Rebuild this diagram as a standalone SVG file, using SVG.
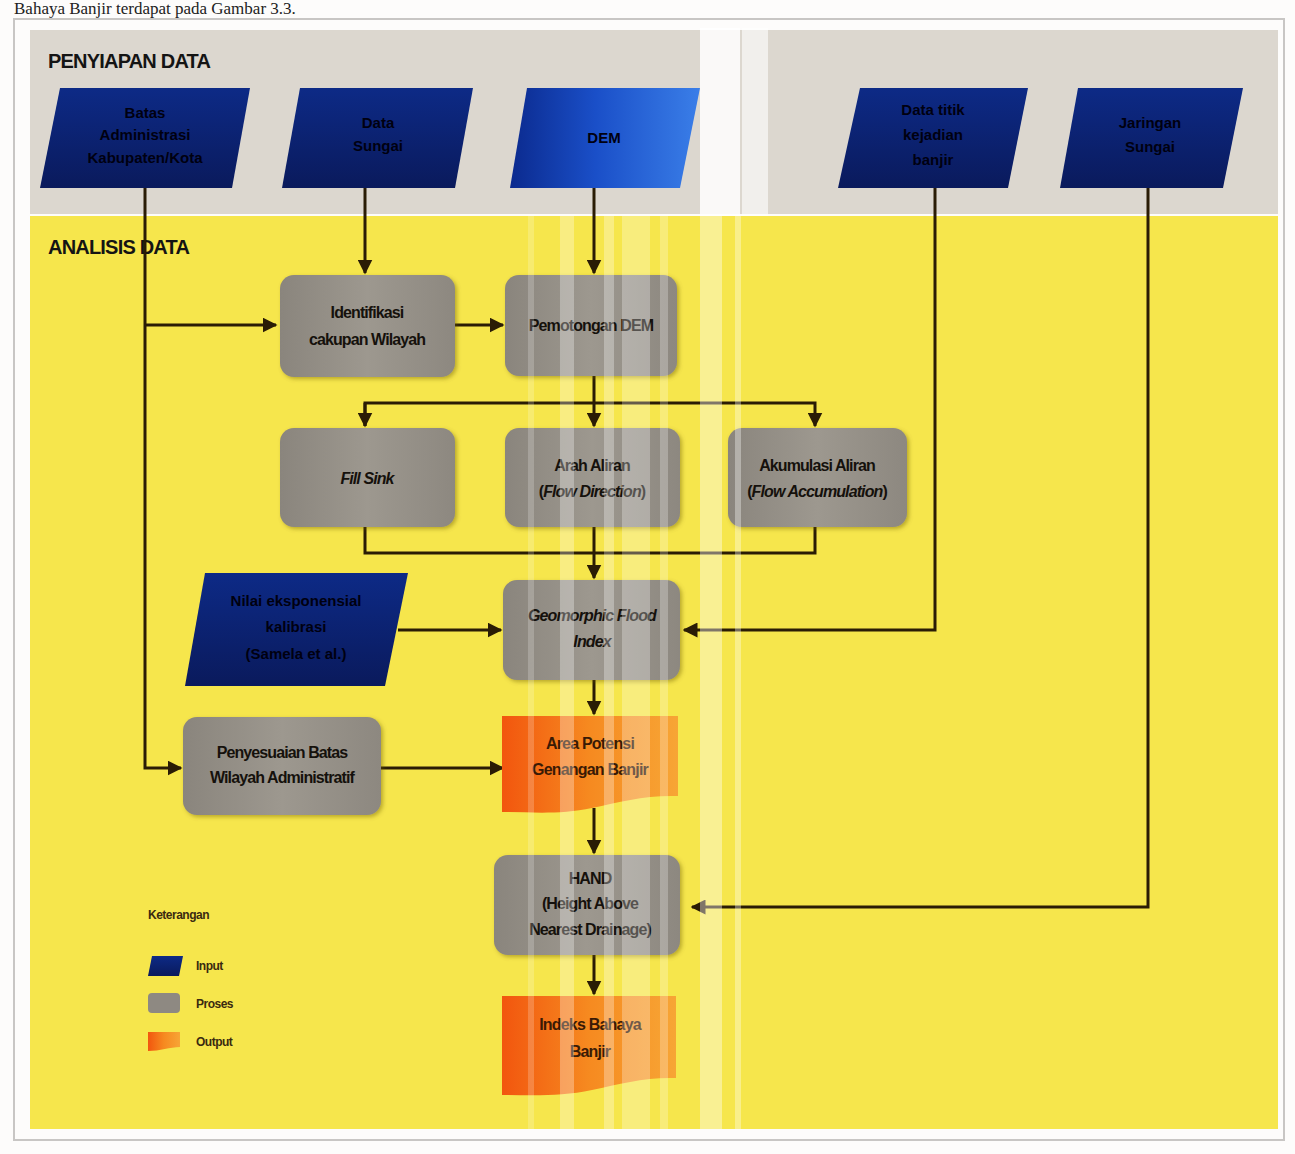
<svg xmlns="http://www.w3.org/2000/svg" width="1295" height="1154" viewBox="0 0 1295 1154">
<defs>
<style>
.t{font-family:"Liberation Sans Narrow","Liberation Sans",Arial,sans-serif;font-size:16px;fill:#15110c;text-anchor:middle;letter-spacing:-0.9px;font-weight:bold}
.ti{font-style:italic}
.tin{font-family:"Liberation Sans Narrow","Liberation Sans",Arial,sans-serif;font-size:15px;fill:#000010;text-anchor:middle;font-weight:bold}
.to{font-family:"Liberation Sans Narrow","Liberation Sans",Arial,sans-serif;font-size:16px;fill:#3a1a05;text-anchor:middle;font-weight:bold;letter-spacing:-0.8px}
.hd{font-family:"Liberation Sans Narrow","Liberation Sans",Arial,sans-serif;font-size:20px;font-weight:bold;fill:#141414;letter-spacing:-0.8px}
.lg{font-family:"Liberation Sans Narrow","Liberation Sans",Arial,sans-serif;font-size:12px;fill:#3a2a10;font-weight:bold;letter-spacing:-0.5px}
.ln{fill:none;stroke:#2a1c05;stroke-width:3}
.proc{fill:url(#gProc);filter:url(#sh)}
.inp{fill:url(#gIn)}
.out{fill:url(#gOut)}
.st{fill:#ffffff}
</style>
<linearGradient id="gProc" x1="0" y1="0" x2="1" y2="0">
<stop offset="0" stop-color="#8a857d"/><stop offset="0.5" stop-color="#9d988f"/><stop offset="1" stop-color="#8d8880"/>
</linearGradient>
<linearGradient id="gIn" x1="0" y1="0" x2="0" y2="1">
<stop offset="0" stop-color="#0d2a86"/><stop offset="1" stop-color="#0a1a5c"/>
</linearGradient>
<linearGradient id="gDem" x1="0" y1="0" x2="1" y2="0">
<stop offset="0" stop-color="#0b2a8e"/><stop offset="0.45" stop-color="#1a4fc8"/><stop offset="1" stop-color="#3a7ee8"/>
</linearGradient>
<linearGradient id="gOut" x1="0" y1="0" x2="1" y2="0">
<stop offset="0" stop-color="#f2560e"/><stop offset="0.5" stop-color="#f68a20"/><stop offset="1" stop-color="#f7a535"/>
</linearGradient>
<filter id="sh" x="-10%" y="-10%" width="125%" height="125%">
<feDropShadow dx="2" dy="2" stdDeviation="2" flood-color="#6b5a10" flood-opacity="0.45"/>
</filter>
<marker id="ah" viewBox="0 0 10 10" refX="9" refY="5" markerWidth="5" markerHeight="5" orient="auto" markerUnits="strokeWidth">
<path d="M0,0 L10,5 L0,10 Z" fill="#2a1c05"/>
</marker>
</defs>

<rect x="0" y="0" width="1295" height="1154" fill="#fdfcfb"/>
<text x="14" y="14" font-family="Liberation Serif,serif" font-size="17" fill="#222">Bahaya Banjir terdapat pada Gambar 3.3.</text>
<rect x="14" y="19" width="1270" height="1121" fill="none" stroke="#c8c6c4" stroke-width="2"/>

<g id="bands">
<rect x="30" y="30" width="1248" height="184" fill="#dcd7cf"/>
<rect x="30" y="216" width="1248" height="913" fill="#f6e64c"/>
<text class="hd" x="48" y="68">PENYIAPAN DATA</text>
<text class="hd" x="48" y="254">ANALISIS DATA</text>
</g>

<g id="connectors">
<path class="ln" d="M145,188 V768 H181" marker-end="url(#ah)"/>
<path class="ln" d="M145,325 H276" marker-end="url(#ah)"/>
<path class="ln" d="M365,188 V273" marker-end="url(#ah)"/>
<path class="ln" d="M594,188 V273" marker-end="url(#ah)"/>
<path class="ln" d="M455,325 H503" marker-end="url(#ah)"/>
<path class="ln" d="M594,376 V426" marker-end="url(#ah)"/>
<path class="ln" d="M365,426 V403 H815 V426" marker-end="url(#ah)"/>
<path class="ln" d="M365,403 V426" marker-end="url(#ah)"/>
<path class="ln" d="M365,527 V553 H815 V527"/>
<path class="ln" d="M594,527 V578" marker-end="url(#ah)"/>
<path class="ln" d="M935,188 V630 H684" marker-end="url(#ah)"/>
<path class="ln" d="M398,630 H501" marker-end="url(#ah)"/>
<path class="ln" d="M594,680 V714" marker-end="url(#ah)"/>
<path class="ln" d="M381,768 H503" marker-end="url(#ah)"/>
<path class="ln" d="M594,808 V853" marker-end="url(#ah)"/>
<path class="ln" d="M1148,188 V907 H692" marker-end="url(#ah)"/>
<path class="ln" d="M594,955 V994" marker-end="url(#ah)"/>
</g>

<g id="in-batas">
<path class="inp" d="M60,88 H250 L232,188 H40 Z"/>
<text class="tin" x="145" y="118">Batas</text>
<text class="tin" x="145" y="140">Administrasi</text>
<text class="tin" x="145" y="163">Kabupaten/Kota</text>
</g>
<g id="in-data">
<path class="inp" d="M300,88 H473 L455,188 H282 Z"/>
<text class="tin" x="378" y="128">Data</text>
<text class="tin" x="378" y="151">Sungai</text>
</g>
<g id="in-dem">
<path d="M527,88 H700 L680,188 H510 Z" fill="url(#gDem)"/>
<text class="tin" x="604" y="143">DEM</text>
</g>
<g id="in-titik">
<path class="inp" d="M860,88 H1028 L1008,188 H838 Z"/>
<text class="tin" x="933" y="115">Data titik</text>
<text class="tin" x="933" y="140">kejadian</text>
<text class="tin" x="933" y="165">banjir</text>
</g>
<g id="in-jaringan">
<path class="inp" d="M1078,88 H1243 L1223,188 H1060 Z"/>
<text class="tin" x="1150" y="128">Jaringan</text>
<text class="tin" x="1150" y="152">Sungai</text>
</g>
<g id="in-nilai">
<path class="inp" d="M205,573 H408 L385,686 H185 Z"/>
<text class="tin" x="296" y="606">Nilai eksponensial</text>
<text class="tin" x="296" y="632">kalibrasi</text>
<text class="tin" x="296" y="659">(Samela et al.)</text>
</g>

<g id="identifikasi">
<rect class="proc" x="280" y="275" width="175" height="102" rx="14"/>
<text class="t" x="367" y="318">Identifikasi</text>
<text class="t" x="367" y="345">cakupan  Wilayah</text>
</g>
<g id="pemotongan">
<rect class="proc" x="505" y="275" width="172" height="101" rx="14"/>
<text class="t" x="591" y="331">Pemotongan DEM</text>
</g>
<g id="fillsink">
<rect class="proc" x="280" y="428" width="175" height="99" rx="14"/>
<text class="t ti" x="367" y="484">Fill Sink</text>
</g>
<g id="arah">
<rect class="proc" x="505" y="428" width="175" height="99" rx="14"/>
<text class="t" x="592" y="471">Arah Aliran</text>
<text class="t" x="592" y="497">(<tspan font-style="italic">Flow Direction</tspan>)</text>
</g>
<g id="akumulasi">
<rect class="proc" x="728" y="428" width="179" height="99" rx="14"/>
<text class="t" x="817" y="471">Akumulasi Aliran</text>
<text class="t" x="817" y="497">(<tspan font-style="italic">Flow Accumulation</tspan>)</text>
</g>
<g id="gfi">
<rect class="proc" x="503" y="580" width="177" height="100" rx="14"/>
<text class="t ti" x="592" y="621">Geomorphic Flood</text>
<text class="t ti" x="592" y="647">Index</text>
</g>
<g id="penyesuaian">
<rect class="proc" x="183" y="717" width="198" height="98" rx="14"/>
<text class="t" x="282" y="758">Penyesuaian Batas</text>
<text class="t" x="282" y="783">Wilayah Administratif</text>
</g>
<g id="area">
<path class="out" d="M502,716 H678 V796 C645,795 620,802 592,808 C560,815 530,812 502,812 Z"/>
<text class="to" x="590" y="749">Area Potensi</text>
<text class="to" x="590" y="775">Genangan Banjir</text>
</g>
<g id="hand">
<rect class="proc" x="494" y="855" width="186" height="100" rx="14"/>
<text class="t" x="590" y="884">HAND</text>
<text class="t" x="590" y="909">(Height Above</text>
<text class="t" x="590" y="935">Nearest Drainage)</text>
</g>
<g id="indeks">
<path class="out" d="M502,996 H676 V1078 C645,1077 620,1084 592,1090 C560,1097 530,1095 502,1095 Z"/>
<text class="to" x="590" y="1030">Indeks Bahaya</text>
<text class="to" x="590" y="1057">Banjir</text>
</g>

<g id="legend">
<text class="lg" x="148" y="919">Keterangan</text>
<path class="inp" d="M152,956 H183 L179,976 H148 Z"/>
<text class="lg" x="196" y="970">Input</text>
<rect x="148" y="993" width="32" height="20" rx="4" fill="#8e8982"/>
<text class="lg" x="196" y="1008">Proses</text>
<path class="out" d="M148,1032 H180 V1047 C170,1047 160,1051 148,1051 Z"/>
<text class="lg" x="196" y="1046">Output</text>
</g>

<g id="scan-streaks">
<rect class="st" x="700" y="28" width="40" height="188" opacity="0.85"/>
<rect class="st" x="742" y="28" width="26" height="188" opacity="0.6"/>
<rect class="st" x="560" y="216" width="14" height="913" opacity="0.3"/>
<rect class="st" x="604" y="216" width="10" height="913" opacity="0.3"/>
<rect class="st" x="622" y="216" width="28" height="913" opacity="0.28"/>
<rect class="st" x="660" y="216" width="8" height="913" opacity="0.25"/>
<rect class="st" x="700" y="216" width="22" height="913" opacity="0.4"/>
<rect class="st" x="735" y="216" width="6" height="913" opacity="0.35"/>
<rect class="st" x="528" y="216" width="6" height="913" opacity="0.2"/>
</g>
</svg>
